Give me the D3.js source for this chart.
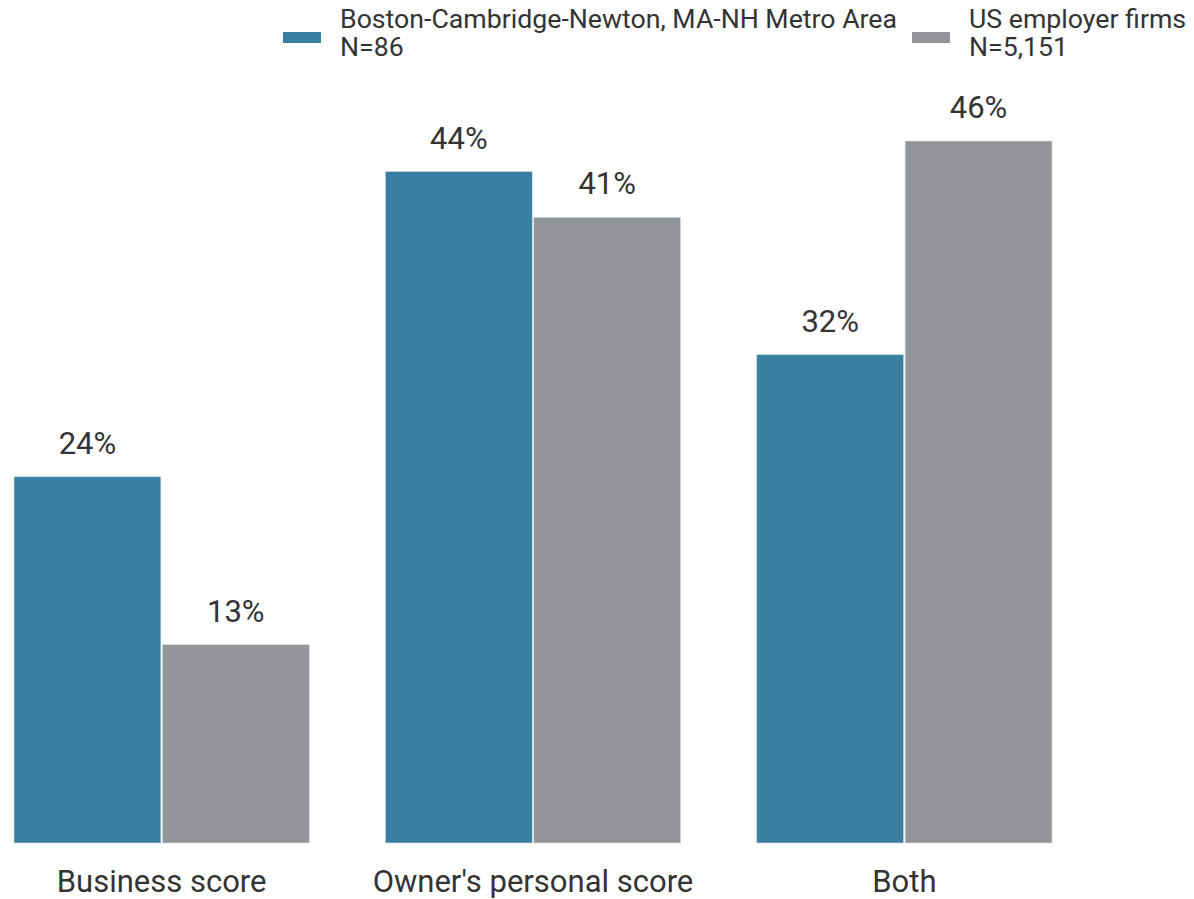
<!DOCTYPE html>
<html>
<head>
<meta charset="utf-8">
<script src="https://cdn.jsdelivr.net/npm/d3@7"></script>
<style>
	body { margin: 0; background: #fff; }
	svg text { font-family: Roboto, "Noto Sans", sans-serif; fill: #333; }
</style>
</head>
<body>
<svg id="chart" width="1194" height="899"></svg>
<script>
	// data
	var categories = ["Business score", "Owner's personal score", "Both"];
	var seriesNames = ["Boston-Cambridge-Newton, MA-NH Metro Area", "US employer firms"];
	var seriesN = ["N=86", "N=5,151"];
	var bostonValues = [24, 44, 32];
	var usValues = [13, 41, 46];
	var colors = ["#3a7ea0", "#949598"];

	var svg = d3.select("#chart");
	var baseline = 843;

	var x0 = d3.scaleBand().domain(categories).range([14, 1052]).paddingInner(0.205).paddingOuter(0);
	var x1 = d3.scaleBand().domain([0, 1]).range([0, x0.bandwidth()]).paddingInner(0.01);
	var y = d3.scaleLinear().domain([0, 46]).range([baseline, 141]);

	var rows = categories.map(function (c, i) {
		return { cat: c, vals: [bostonValues[i], usValues[i]] };
	});

	var groups = svg.selectAll("g.group")
		.data(rows).enter().append("g")
		.attr("class", "group")
		.attr("transform", function (d) { return "translate(" + x0(d.cat) + ",0)" });

	groups.selectAll("rect")
		.data(function (d) { return d.vals; }).enter()
		.append("rect")
		.attr("x", function (d, i) { return x1(i) })
		.attr("y", function (d) { return y(d) })
		.attr("width", x1.bandwidth())
		.attr("height", function (d) { return baseline - y(d) })
		.attr("fill", function (d, i) { return colors[i] })
		.attr("stroke", "#cfe0ea")
		.attr("stroke-width", 0.6);

	groups.selectAll("text.value")
		.data(function (d) { return d.vals; }).enter()
		.append("text")
		.attr("class", "value")
		.text(function (d) { return d + "%" })
		.attr("x", function (d, i) { return x1(i) + x1.bandwidth() / 2 })
		.attr("y", function (d) { return y(d) - 23 })
		.attr("text-anchor", "middle")
		.style("font-size", "31px");

	svg.selectAll("text.cat")
		.data(categories).enter()
		.append("text")
		.attr("class", "cat")
		.text(function (d) { return d })
		.attr("x", function (d) { return x0(d) + x0.bandwidth() / 2 })
		.attr("y", 892)
		.attr("text-anchor", "middle")
		.style("font-size", "31px");

	// legend
	var legendX = [283, 912];
	var legend = svg.selectAll("g.legend")
		.data(seriesNames).enter().append("g")
		.attr("class", "legend")
		.attr("transform", function (d, i) { return "translate(" + legendX[i] + ",0)" });

	legend.append("rect")
		.attr("x", 0).attr("y", 32)
		.attr("width", 38).attr("height", 11)
		.attr("fill", function (d, i) { return colors[i] });

	legend.append("text")
		.attr("x", 57).attr("y", 28)
		.style("font-size", "26.7px")
		.text(function (d) { return d });

	legend.append("text")
		.attr("x", 57).attr("y", 56)
		.style("font-size", "26.7px")
		.text(function (d, i) { return seriesN[i] });
</script>
</body>
</html>
